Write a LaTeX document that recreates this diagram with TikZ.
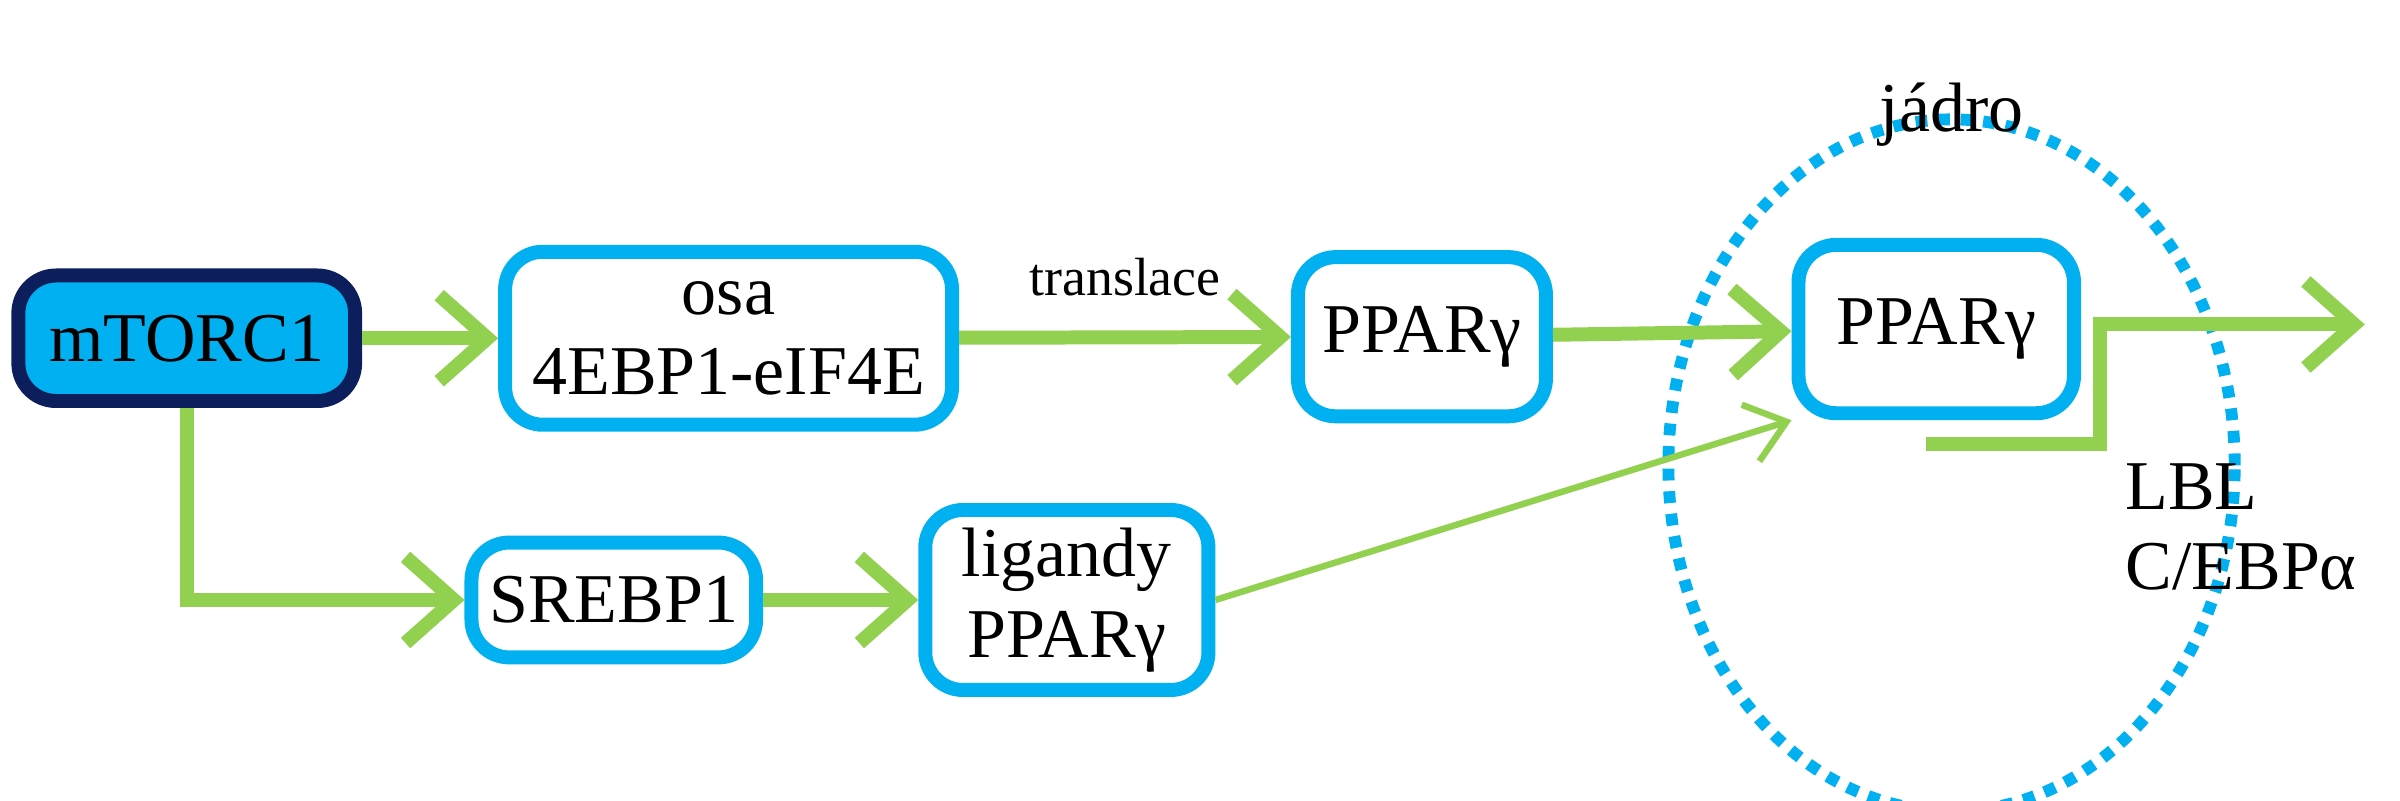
\documentclass[tikz,border=0pt]{standalone}
\usepackage{fontspec}
\setmainfont{Liberation Serif}
\usetikzlibrary{arrows.meta}

\definecolor{boxblue}{HTML}{00B0F0}
\definecolor{navy}{HTML}{0C1F5C}
\definecolor{leaf}{HTML}{92D050}

\tikzset{
  box/.style={draw=boxblue, line width=2.6pt, rounded corners=7pt, fill=white, align=center, font=\fontsize{13}{15}\selectfont},
  go/.style={leaf, line width=2.6pt, -{Straight Barb[length=9pt, width=16pt, line width=2.6pt]}},
  thin go/.style={leaf, line width=1.2pt, -{Straight Barb[length=7pt, width=11pt, line width=1.2pt]}}
}

\begin{document}
\begin{tikzpicture}
\useasboundingbox (0,2.77) rectangle (15.68,8);

\node[box, draw=navy, fill=boxblue, minimum width=2.2cm, minimum height=0.82cm] (mtor) at (1.22,5.79) {mTORC1};
\node[box, minimum width=2.92cm, minimum height=1.13cm] (osa) at (4.76,5.79) {osa\\4EBP1-eIF4E};
\node[box, minimum width=1.62cm, minimum height=1.04cm] (pp1) at (9.29,5.80) {PPARγ};
\node[box, minimum width=1.80cm, minimum height=1.10cm] (pp2) at (12.65,5.85) {PPARγ};
\node[box, minimum width=1.58cm, minimum height=0.75cm] (sreb) at (4.01,4.08) {SREBP1};
\node[box, minimum width=1.85cm, minimum height=1.05cm] (lig) at (6.97,4.08) {ligandy\\PPARγ};

\draw[boxblue, line width=2.2pt, dotted] (12.75,4.96) ellipse (1.85cm and 2.26cm);
\node[font=\fontsize{13}{15}\selectfont] (jadro) at (12.75,7.25) {jádro};

\draw[go] (mtor) -- (osa);
\draw[go] (osa) -- node[above=3pt, text=black, font=\fontsize{10}{12}\selectfont] {translace} (pp1);
\draw[go] (pp1) -- (pp2);
\draw[go] (mtor.south) |- (sreb);
\draw[go] (sreb) -- (lig);
\draw[thin go] (lig.east) -- (pp2.south west);

\coordinate (out) at (12.58,5.10);
\coordinate (tip) at (15.45,5.88);
\draw[go] (out) -- (13.72,5.10) |- (tip);
\node[anchor=north west, align=left, font=\fontsize{13}{15}\selectfont, inner sep=0pt] (lbl) at (13.88,4.98) {LBL\\C/EBPα};
\end{tikzpicture}
\end{document}
